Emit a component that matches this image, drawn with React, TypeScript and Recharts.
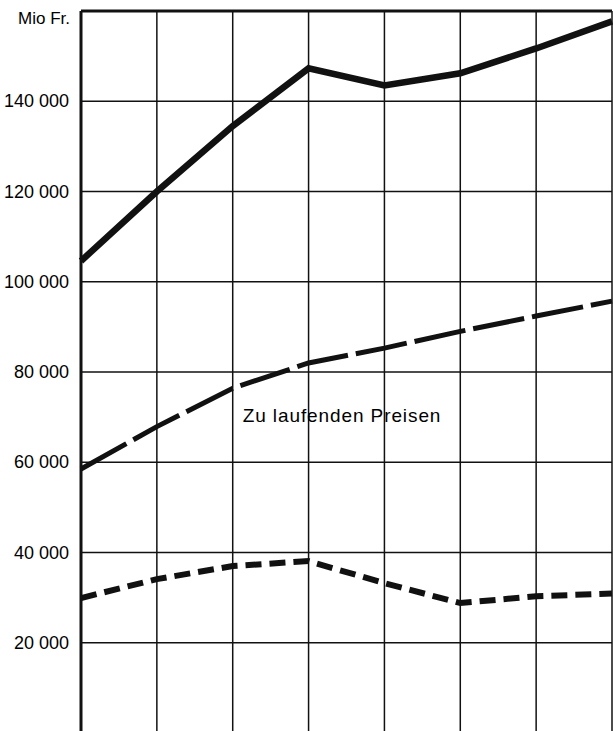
import React from "react"
import {
  LineChart,
  Line,
  XAxis,
  YAxis,
  CartesianGrid,
  ReferenceLine,
  ReferenceDot,
} from "recharts"

const years = ["1970", "1971", "1972", "1973", "1974", "1975", "1976", "1977"]
const solid = [104600, 120000, 134500, 147300, 143500, 146200, 151700, 157700]
const laufend = [58500, 67900, 76400, 82000, 85300, 89000, 92400, 95700]
const short = [29900, 34100, 37000, 38100, 33200, 28800, 30300, 30900]
const yTicks = [0, 20000, 40000, 60000, 80000, 100000, 120000, 140000, 160000]

const data = years.map((year, i) => ({
  year,
  solid: solid[i],
  laufend: laufend[i],
  short: short[i],
}))

const font = "'Liberation Sans', Arial, Helvetica, sans-serif"

const fmt = (v: number) =>
  v === 0 || v === 160000 ? "" : String(v).replace(/\B(?=(\d{3})+(?!\d))/g, " ")

// custom tick so the font size sticks
const YTick = (props: any) => {
  const { x, y, payload } = props
  return (
    <text
      x={x - 1}
      y={y}
      dy={6}
      textAnchor="end"
      fill="#000"
      style={{ fontSize: "18px", fontFamily: font }}
    >
      {fmt(payload.value)}
    </text>
  )
}

export default function App() {
  return (
    <div
      style={{
        position: "absolute",
        left: 0,
        top: 0,
        width: 613,
        height: 731,
        overflow: "hidden",
        background: "#fff",
        fontFamily: font,
      }}
    >
      <LineChart width={613} height={740} data={data} margin={{ top: 11, right: 1, left: 0, bottom: 7 }}>
        <CartesianGrid stroke="#111" strokeWidth={1.5} />
        <XAxis dataKey="year" hide />
        <YAxis
          width={81}
          domain={[0, 160000]}
          ticks={yTicks}
          tickLine={false}
          tickMargin={5}
          axisLine={{ stroke: "#111", strokeWidth: 3 }}
          tick={YTick}
          label={{
            content: (props: any) => {
              const vb = props.viewBox || { x: 0, y: 11, width: 81 }
              return (
                <text
                  x={vb.x + vb.width - 11}
                  y={vb.y + 13}
                  textAnchor="end"
                  fill="#000"
                  style={{ fontSize: "17px", fontFamily: font }}
                >
                  Mio Fr.
                </text>
              )
            },
          }}
        />
        <ReferenceLine y={160000} stroke="#111" strokeWidth={3} />
        <Line
          type="linear"
          dataKey="solid"
          stroke="#111"
          strokeWidth={6.5}
          dot={false}
          isAnimationActive={false}
        />
        <Line
          type="linear"
          dataKey="laufend"
          stroke="#111"
          strokeWidth={5}
          strokeDasharray="52 8"
          dot={false}
          isAnimationActive={false}
        />
        <Line
          type="linear"
          dataKey="short"
          stroke="#111"
          strokeWidth={6}
          strokeDasharray="16 8"
          dot={false}
          isAnimationActive={false}
        />
        <ReferenceDot
          x="1972"
          y={70200}
          r={0}
          stroke="none"
          label={{
            content: (props: any) => {
              const vb = props.viewBox || { x: 0, y: 0 }
              return (
                <text
                  x={vb.x + 10}
                  y={vb.y + 6}
                  textAnchor="start"
                  fill="#000"
                  style={{ fontSize: "19px", fontFamily: font, letterSpacing: "0.9px" }}
                >
                  Zu laufenden Preisen
                </text>
              )
            },
          }}
        />
      </LineChart>
    </div>
  )
}
